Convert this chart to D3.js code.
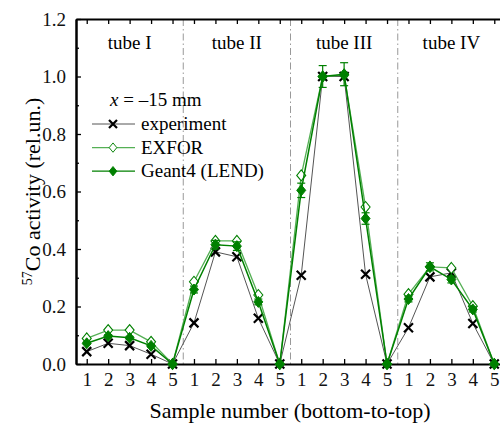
<!DOCTYPE html>
<html>
<head>
<meta charset="utf-8">
<script src="https://cdn.jsdelivr.net/npm/d3@7"></script>
<style>
  body { margin: 0; background: #fff; }
  svg { display: block; }
</style>
</head>
<body>
<svg id="chart" width="500" height="426"></svg>
<script>
// sample numbers within each tube, 4 tubes of 5 samples
const tubes = ['tube I', 'tube II', 'tube III', 'tube IV'];
const samples = [1, 2, 3, 4, 5];

const experiment = [0.043, 0.072, 0.064, 0.034, 0,
                    0.143, 0.390, 0.373, 0.159, 0,
                    0.309, 1.000, 1.000, 0.312, 0,
                    0.126, 0.303, 0.317, 0.141, 0];
const exfor = [0.089, 0.118, 0.118, 0.077, 0,
               0.286, 0.428, 0.428, 0.240, 0,
               0.656, 1.000, 1.005, 0.546, 0,
               0.243, 0.338, 0.334, 0.201, 0];
const geant4 = [0.072, 0.097, 0.091, 0.063, 0,
                0.259, 0.415, 0.410, 0.216, 0,
                0.604, 1.000, 1.008, 0.506, 0,
                0.226, 0.338, 0.294, 0.190, 0];
const geant4Err = [0.004, 0.005, 0.005, 0.004, 0,
                   0.012, 0.015, 0.015, 0.010, 0,
                   0.025, 0.038, 0.040, 0.020, 0,
                   0.010, 0.014, 0.012, 0.009, 0];

const yTicks = [0, 0.2, 0.4, 0.6, 0.8, 1.0, 1.2];

const FONT = '"Liberation Serif", "Times New Roman", serif';
const svg = d3.select('#chart');
const m = {left: 76, right: 505, top: 19, bottom: 364};

const x = d3.scaleLinear().domain([-0.5, 19.5]).range([m.left, m.right]);
const y = d3.scaleLinear().domain([0, 1.2]).range([m.bottom, m.top]);

const idx = d3.range(20);
const green = '#008000', lightGreen = '#55b055';

// tube dividers
svg.append('g').selectAll('line')
  .data([4.5, 9.5, 14.5])
  .join('line')
    .attr('x1', d => x(d)).attr('x2', d => x(d))
    .attr('y1', m.top).attr('y2', m.bottom)
    .attr('stroke', '#999')
    .attr('stroke-width', 1)
    .attr('stroke-dasharray', '7,3,1.5,3');

// tube labels
svg.append('g').selectAll('text')
  .data(tubes)
  .join('text')
    .attr('x', (d, i) => x(i * 5 + 2))
    .attr('y', 49)
    .attr('text-anchor', 'middle')
    .style('font-family', FONT)
    .style('font-size', '19px')
    .text(d => d);

// axes (ticks pointing inward)
const xBottom = d3.axisBottom(x).tickValues(idx).tickSizeInner(-5).tickSizeOuter(0)
  .tickFormat(d => samples[d % 5]).tickPadding(9);
const gx = svg.append('g').attr('transform', `translate(0,${m.bottom})`).call(xBottom);
gx.selectAll('text').style('font-family', FONT).style('font-size', '19px').attr('fill', '#111');

const xTop = d3.axisTop(x).tickValues(idx).tickSizeInner(-5).tickSizeOuter(0).tickFormat('');
svg.append('g').attr('transform', `translate(0,${m.top})`).call(xTop);

const yMinor = d3.range(0.1, 1.2, 0.2);
const yLeft = d3.axisLeft(y).tickValues(yTicks).tickSizeInner(-5).tickSizeOuter(0)
  .tickFormat(d3.format('.1f')).tickPadding(10);
const gy = svg.append('g').attr('transform', `translate(${m.left},0)`).call(yLeft);
gy.selectAll('text').style('font-family', FONT).style('font-size', '19px').attr('fill', '#111');
svg.append('g').attr('transform', `translate(${m.left},0)`)
  .call(d3.axisLeft(y).tickValues(yMinor).tickSizeInner(-3).tickSizeOuter(0).tickFormat(''));

svg.append('g').attr('transform', `translate(${m.right},0)`)
  .call(d3.axisRight(y).tickValues(yTicks).tickSizeInner(-5).tickSizeOuter(0).tickFormat(''));
svg.append('g').attr('transform', `translate(${m.right},0)`)
  .call(d3.axisRight(y).tickValues(yMinor).tickSizeInner(-3).tickSizeOuter(0).tickFormat(''));

svg.selectAll('.domain').attr('stroke', '#000').attr('stroke-width', 2);
svg.selectAll('.tick line').attr('stroke', '#000').attr('stroke-width', 1.3);

// axis titles
svg.append('text')
  .attr('x', 290).attr('y', 418)
  .attr('text-anchor', 'middle')
  .style('font-family', FONT).style('font-size', '22px')
  .text('Sample number (bottom-to-top)');

const yt = svg.append('text')
  .attr('transform', `translate(40,${(m.top + m.bottom) / 2}) rotate(-90)`)
  .attr('text-anchor', 'middle')
  .style('font-family', FONT).style('font-size', '22px');
yt.append('tspan').style('font-size', '14px').attr('dy', -8).text('57');
yt.append('tspan').attr('dy', 8).text('Co activity (rel.un.)');

// series
const line = vals => d3.line().x((d, i) => x(i)).y(d => y(d))(vals);
const diamond = 'M0,-5.5L4.5,0L0,5.5L-4.5,0Z';
const cross = 'M-4.5,-4.5L4.5,4.5M-4.5,4.5L4.5,-4.5';

const plot = svg.append('g');

// experiment
plot.append('path').attr('d', line(experiment))
  .attr('fill', 'none').attr('stroke', '#555').attr('stroke-width', 1);
plot.append('g').selectAll('path')
  .data(experiment)
  .join('path')
    .attr('transform', (d, i) => `translate(${x(i)},${y(d)})`)
    .attr('d', cross)
    .attr('stroke', '#000').attr('stroke-width', 2.2).attr('fill', 'none');

// EXFOR
plot.append('path').attr('d', line(exfor))
  .attr('fill', 'none').attr('stroke', lightGreen).attr('stroke-width', 1.3);
plot.append('g').selectAll('path')
  .data(exfor)
  .join('path')
    .attr('transform', (d, i) => `translate(${x(i)},${y(d)})`)
    .attr('d', diamond)
    .attr('fill', '#fff').attr('stroke', green).attr('stroke-width', 1.1);

// Geant4 with error bars
plot.append('path').attr('d', line(geant4))
  .attr('fill', 'none').attr('stroke', green).attr('stroke-width', 1.5);
const eb = plot.append('g').attr('stroke', green).attr('stroke-width', 1.2);
geant4.forEach((d, i) => {
  if (!geant4Err[i]) return;
  const xi = x(i), y0 = y(d - geant4Err[i]), y1 = y(d + geant4Err[i]);
  eb.append('line').attr('x1', xi).attr('x2', xi).attr('y1', y0).attr('y2', y1);
  eb.append('line').attr('x1', xi - 4).attr('x2', xi + 4).attr('y1', y0).attr('y2', y0);
  eb.append('line').attr('x1', xi - 4).attr('x2', xi + 4).attr('y1', y1).attr('y2', y1);
});
plot.append('g').selectAll('path')
  .data(geant4)
  .join('path')
    .attr('transform', (d, i) => `translate(${x(i)},${y(d)})`)
    .attr('d', diamond)
    .attr('fill', green).attr('stroke', green).attr('stroke-width', 1);

// legend
const leg = svg.append('g');
const lt = leg.append('text').attr('x', 110).attr('y', 106)
  .style('font-family', FONT).style('font-size', '19px');
lt.append('tspan').style('font-style', 'italic').text('x');
lt.append('tspan').text(' = \u201315 mm');

const legItems = [
  {name: 'experiment', stroke: '#555', type: 'cross'},
  {name: 'EXFOR', stroke: lightGreen, type: 'open'},
  {name: 'Geant4 (LEND)', stroke: green, type: 'filled'}
];
legItems.forEach((it, k) => {
  const ly = 124 + k * 23.6;
  leg.append('line').attr('x1', 92).attr('x2', 135).attr('y1', ly).attr('y2', ly)
    .attr('stroke', it.stroke).attr('stroke-width', it.type === 'cross' ? 1 : 1.3);
  if (it.type === 'cross') {
    leg.append('path').attr('transform', `translate(113,${ly})`).attr('d', 'M-4,-4L4,4M-4,4L4,-4')
      .attr('stroke', '#000').attr('stroke-width', 2.2);
  } else {
    leg.append('path').attr('transform', `translate(113,${ly}) scale(0.85)`).attr('d', diamond)
      .attr('fill', it.type === 'open' ? '#fff' : green).attr('stroke', green).attr('stroke-width', 1.1);
  }
  leg.append('text').attr('x', 141).attr('y', ly + 6)
    .style('font-family', FONT).style('font-size', '19px').text(it.name);
});
</script>
</body>
</html>
